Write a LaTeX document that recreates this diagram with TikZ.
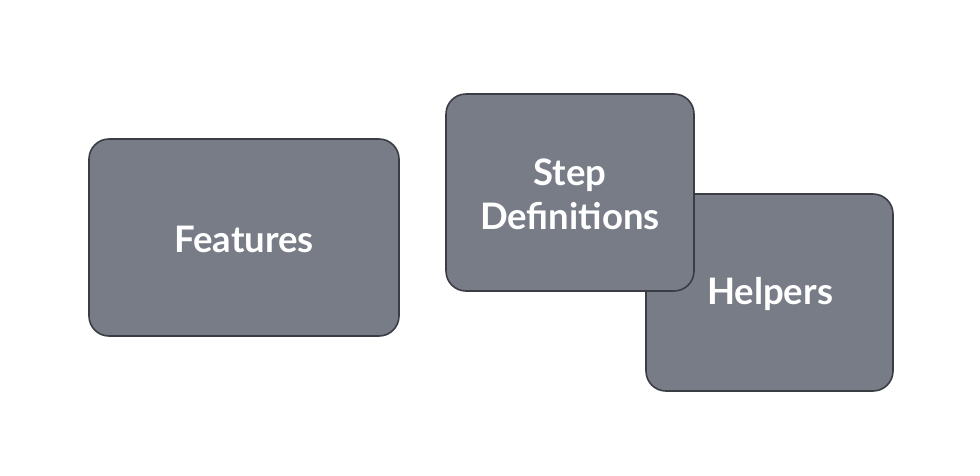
\documentclass[tikz,border=0pt]{standalone}
\usepackage{fontspec}
\setmainfont{Lato}
\definecolor{boxfill}{HTML}{787C87}
\definecolor{boxline}{HTML}{3A3D44}
\begin{document}
\begin{tikzpicture}[x=1pt,y=-1pt,
  card/.style={draw=boxline, fill=boxfill, line width=1.6pt, rounded corners=20pt},
  lbl/.style={text=white, font=\fontsize{36.5}{44}\selectfont\bfseries, align=center}]
\useasboundingbox (0,0) rectangle (980,475);
\draw[card] (89,139) rectangle (399,336);
\node[lbl] (features) at (244,239) {Features};
\draw[card] (646,194) rectangle (893,391);
\node[lbl] (helpers) at (770,294) {Helpers};
\draw[card] (446,94) rectangle (694,291);
\node[lbl] (stepdefs) at (570,194) {Step\\Definitions};
\end{tikzpicture}
\end{document}
